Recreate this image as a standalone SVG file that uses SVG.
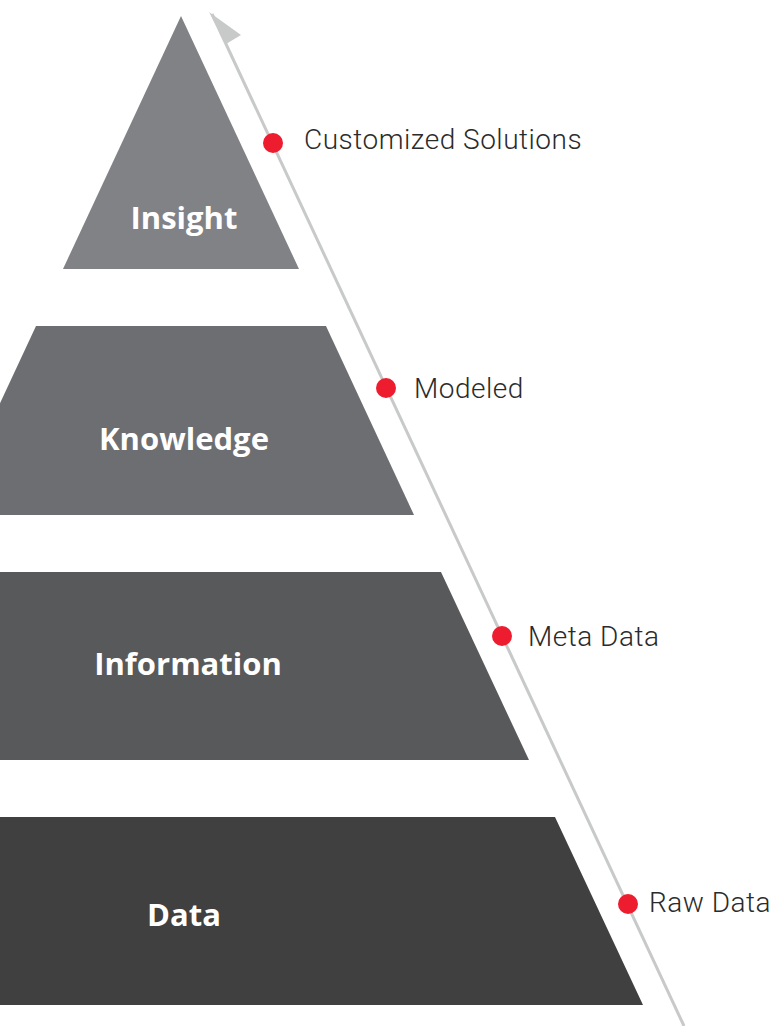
<svg xmlns="http://www.w3.org/2000/svg" width="772" height="1026" viewBox="0 0 772 1026">
<style>
.lvl{font-family:"Open Sans","Noto Sans",sans-serif;font-weight:700;font-size:31px;fill:#ffffff;text-anchor:middle}
.lab{font-family:Roboto,"Liberation Sans",sans-serif;font-weight:300;font-size:28px;letter-spacing:0.5px;fill:#2b2b2b}
.dot{fill:#ed1c2e}
</style>
<rect width="772" height="1026" fill="#ffffff"/>
<g id="connectors">
<line x1="212" y1="14" x2="684" y2="1026" stroke="#c8c9c9" stroke-width="3"/>
<polygon points="209,12 241,35 226,44" fill="#c8c9c9"/>
</g>
<g id="insight">
<polygon points="181,16 299,269 63,269" fill="#808285"/>
<text class="lvl" x="184" y="229">Insight</text>
</g>
<g id="knowledge">
<polygon points="36,326 326,326 414,515 -52,515" fill="#6d6e71"/>
<text class="lvl" x="184" y="450">Knowledge</text>
</g>
<g id="information">
<polygon points="-80,572 441,572 529,760 -170,760" fill="#58595b"/>
<text class="lvl" x="188" y="675">Information</text>
</g>
<g id="data">
<polygon points="-200,817 555,817 643,1005 -300,1005" fill="#404040"/>
<text class="lvl" x="184" y="926">Data</text>
</g>
<g id="customized">
<circle class="dot" cx="273" cy="143" r="10"/>
<text class="lab" x="304" y="149">Customized Solutions</text>
</g>
<g id="modeled">
<circle class="dot" cx="386" cy="388" r="10"/>
<text class="lab" x="414" y="398">Modeled</text>
</g>
<g id="metadata">
<circle class="dot" cx="502" cy="636" r="10"/>
<text class="lab" x="528" y="646">Meta Data</text>
</g>
<g id="rawdata">
<circle class="dot" cx="628" cy="904" r="10"/>
<text class="lab" x="649" y="912">Raw Data</text>
</g>
</svg>
